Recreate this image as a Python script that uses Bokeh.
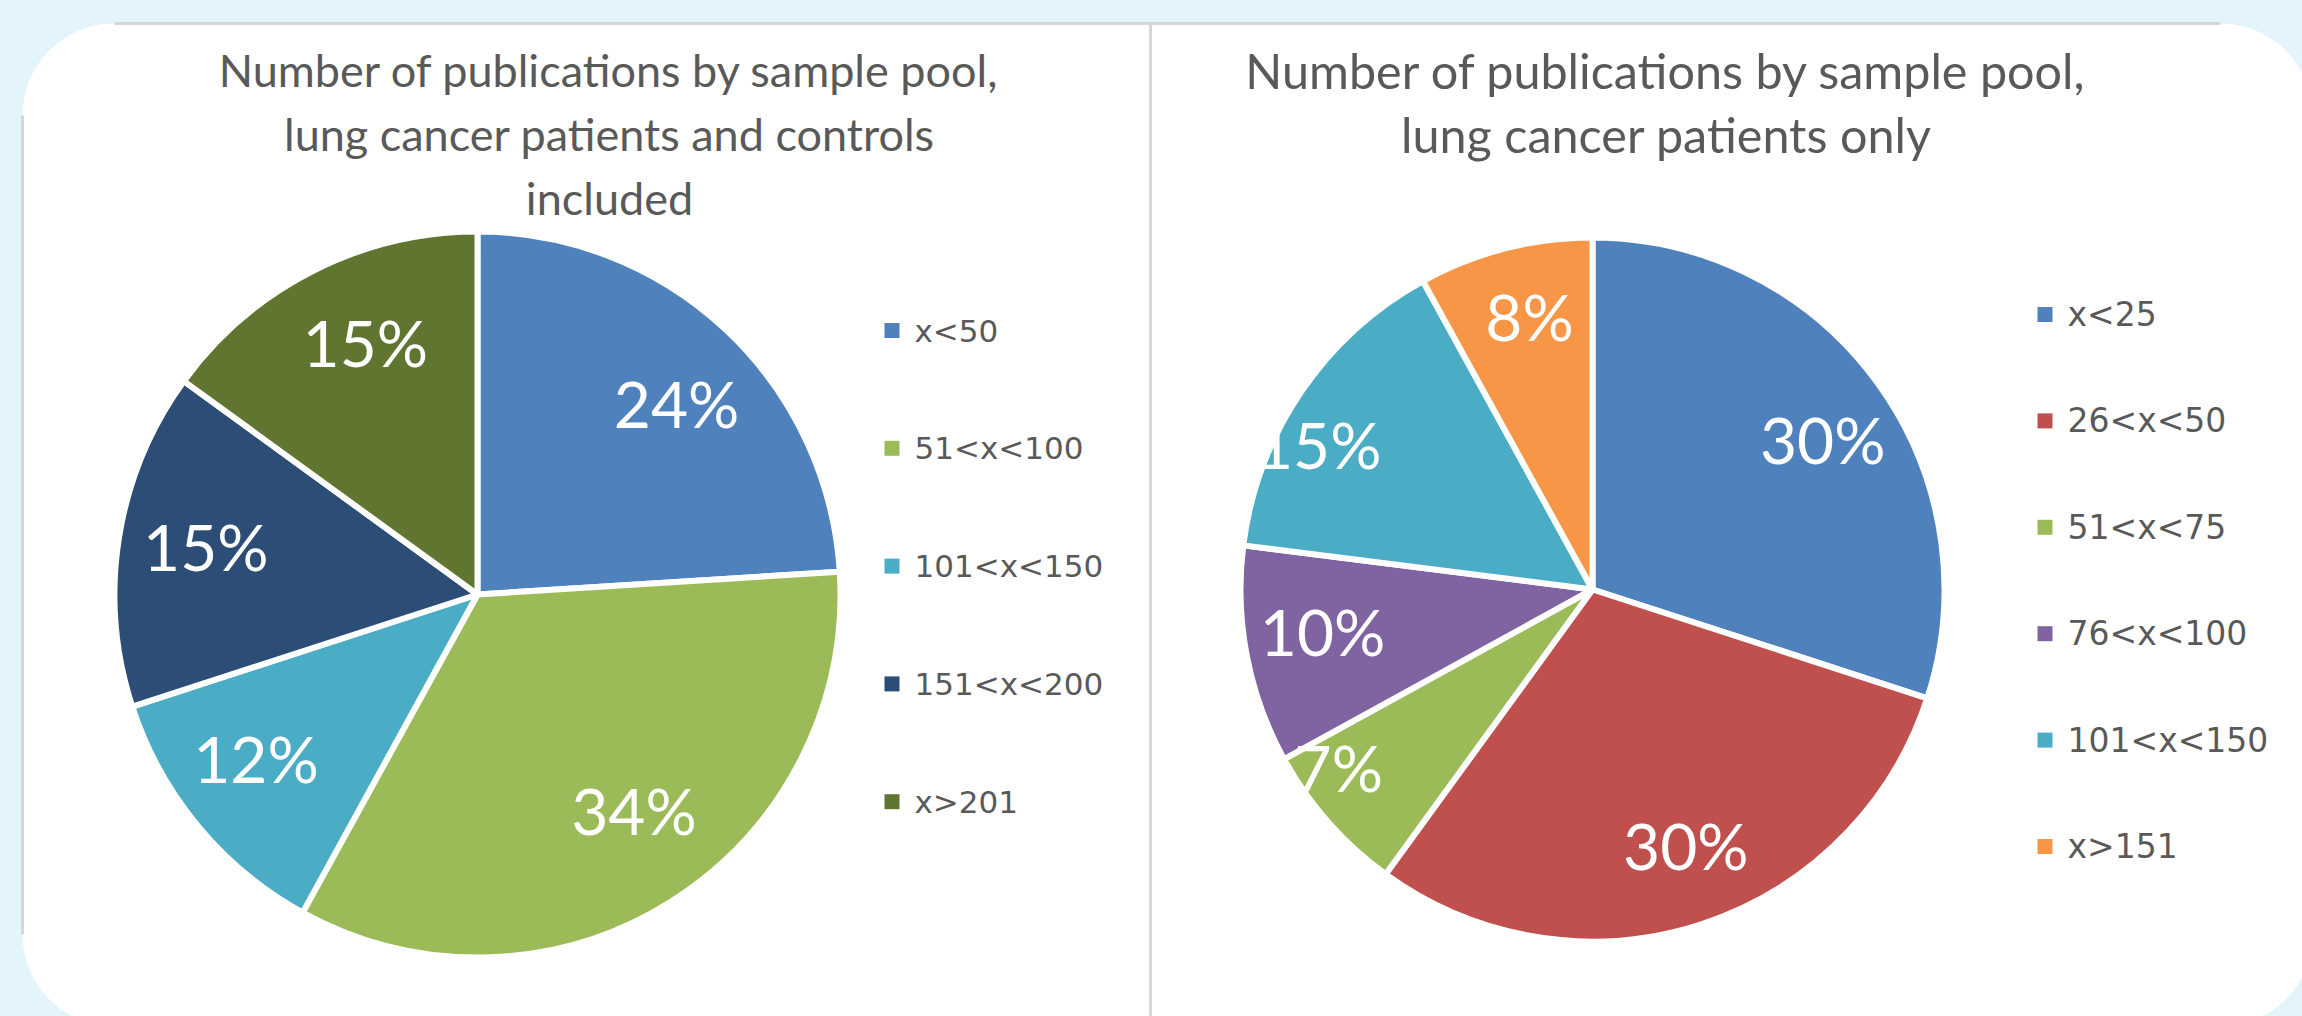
import numpy as np
from bokeh.plotting import figure
from bokeh.models import Range1d, ColumnDataSource
from bokeh.core.properties import value
from bokeh.embed import file_html
from bokeh.resources import INLINE

# ---------------- data ----------------
left_title = ["Number of publications by sample pool,",
              "lung cancer patients and controls",
              "included"]
left_categories = ["x<50", "51<x<100", "101<x<150", "151<x<200", "x>201"]
left_values = [24, 34, 12, 15, 15]
left_colors = ["#4F81BD", "#9BBB59", "#4BACC6", "#2C4D75", "#5F7530"]

right_title = ["Number of publications by sample pool,",
               "lung cancer patients only"]
right_categories = ["x<25", "26<x<50", "51<x<75", "76<x<100", "101<x<150", "x>151"]
right_values = [30, 30, 7, 10, 15, 8]
right_colors = ["#4F81BD", "#C0504D", "#9BBB59", "#8064A2", "#4BACC6", "#F79646"]

# ---------------- layout helpers (page px -> data) ----------------
W, H = 2302, 1016
BG = "#E3F5FB"
TXT = "#595959"


def px(x):
    return np.asarray(x, dtype=float)


def py(y):
    return H - np.asarray(y, dtype=float)


p = figure(width=W, height=H, x_range=Range1d(0, W), y_range=Range1d(0, H),
           output_backend="svg", toolbar_location=None, min_border=0)
p.axis.visible = False
p.grid.visible = False
p.outline_line_color = None
p.background_fill_color = BG
p.border_fill_color = BG

# white rounded panel
L, T, R, B, rad = 22, 23, 2312, 1026, 92
pts = []
for (cx, cy, a0, a1) in [(L + rad, T + rad, 180, 270), (R - rad, T + rad, 270, 360),
                         (R - rad, B - rad, 0, 90), (L + rad, B - rad, 90, 180)]:
    a = np.radians(np.linspace(a0, a1, 30))
    pts += list(zip(cx + rad * np.cos(a), cy + rad * np.sin(a)))
pts = np.array(pts)
p.patch(px(pts[:, 0]), py(pts[:, 1]), fill_color="white", line_color=None)
# shadow lines on straight edges + divider
p.segment(x0=px([L + rad, L, 1150]), y0=py([T, T + rad, T]),
          x1=px([R - rad, L, 1150]), y1=py([T, B - rad, H]),
          line_color="#D6D6D6", line_width=3)


def pie(values, colors, cats, title, cx, cy, r, title_cx, title_size,
        title_base, label_frac, label_shift, leg_x, leg_y0, leg_dy, leg_size):
    v = np.asarray(values, dtype=float)
    frac = v / v.sum()
    c1 = np.cumsum(frac)
    c0 = c1 - frac
    src = ColumnDataSource(dict(
        start=np.pi / 2 - 2 * np.pi * c1,
        end=np.pi / 2 - 2 * np.pi * c0,
        color=colors))
    p.wedge(x=float(px(cx)), y=float(py(cy)), radius=r, start_angle="start",
            end_angle="end", direction="anticlock", fill_color="color",
            line_color="white", line_width=6, source=src)
    mid = 2 * np.pi * (c0 + c1) / 2 + np.radians(label_shift)
    lf = np.asarray(label_frac)
    lx = px(cx) + lf * r * np.sin(mid)
    ly = py(cy) + lf * r * np.cos(mid)
    p.text(x=lx, y=ly, text=[f"{int(round(x))}%" for x in v],
           text_align="center", text_baseline="middle",
           text_font=value("Lato"), text_font_size="64px", text_color="white")
    # title
    n = len(title)
    p.text(x=[float(px(title_cx))] * n,
           y=py(title_base + 64 * np.arange(n)),
           text=title, text_align="center", text_baseline="alphabetic",
           text_font=value("Lato"), text_font_size=title_size, text_color=TXT)
    # legend
    m = len(cats)
    ys = leg_y0 + leg_dy * np.arange(m)
    p.scatter(x=[float(px(leg_x + 7.5))] * m, y=py(ys), marker="square",
              size=15, fill_color=colors, line_color=None)
    p.text(x=[float(px(leg_x + 30))] * m, y=py(ys), text=cats,
           text_align="left", text_baseline="middle",
           text_font=value("DejaVu Sans"), text_font_size=leg_size, text_color=TXT)


pie(left_values, left_colors, left_categories, left_title,
    cx=477, cy=594, r=363, title_cx=609, title_size="45px", title_base=69,
    label_frac=[0.76, 0.735, 0.76, 0.76, 0.76], label_shift=[3, -3.5, 3, 1, 3],
    leg_x=884, leg_y0=330, leg_dy=117.8, leg_size="31px")
pie(right_values, right_colors, right_categories, right_title,
    cx=1592, cy=589, r=352, title_cx=1666, title_size="48.5px", title_base=69,
    label_frac=[0.78, 0.775, 0.88, 0.776, 0.88, 0.796],
    label_shift=[3, -2, 6.4, 2, -6.3, 1.4],
    leg_x=2037, leg_y0=314, leg_dy=106.4, leg_size="33px")

html = file_html(p, INLINE)
html = html.replace("</head>", f"<style>body{{background:{BG};}}</style></head>", 1)
open("out.html", "w").write(html)
